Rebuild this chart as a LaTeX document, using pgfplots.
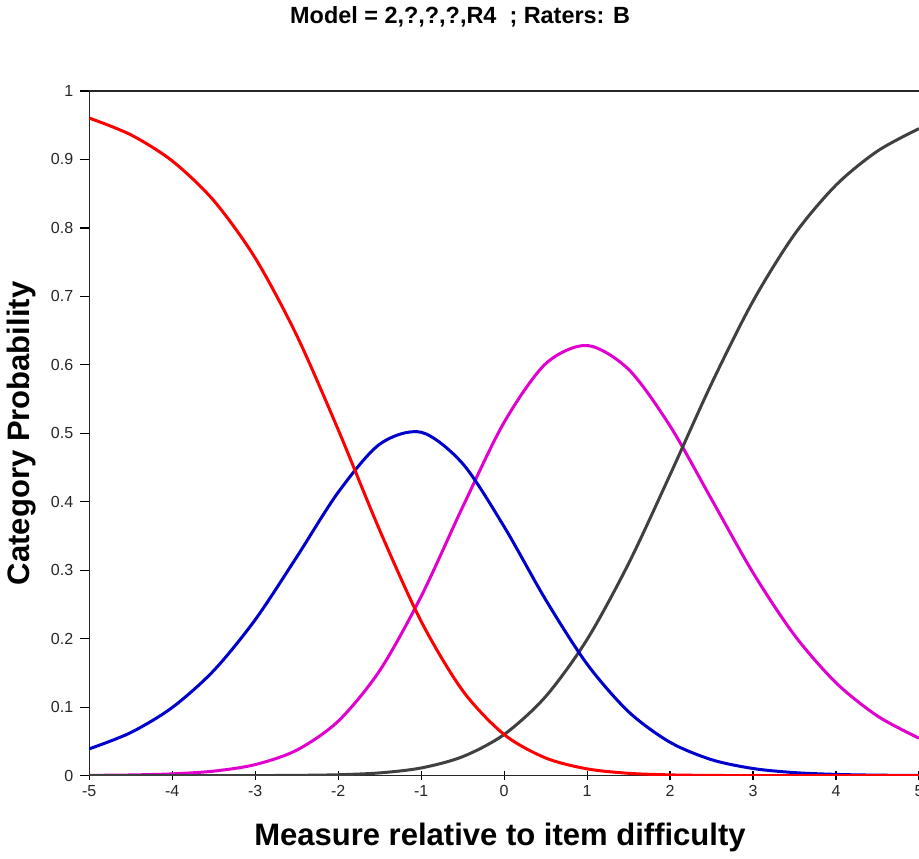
\documentclass[border=0pt]{standalone}
\usepackage{pgfplots}
\usepackage{pgfplotstable}
\pgfplotsset{compat=1.18}
\usepackage{fontspec}
\setmainfont{Liberation Sans}

\definecolor{cRed}{RGB}{255,0,0}
\definecolor{cBlue}{RGB}{0,0,205}
\definecolor{cMag}{RGB}{225,0,205}
\definecolor{cGray}{RGB}{64,64,64}

% category probability curves
\pgfplotstableread{
x     p0      p1      p2      p3
-5.0  0.9605  0.0391  0.0004  0.0000
-4.5  0.9361  0.0629  0.0010  0.0000
-4.0  0.8979  0.0995  0.0026  0.0000
-3.5  0.8400  0.1534  0.0066  0.0000
-3.0  0.7561  0.2277  0.0161  0.0001
-2.5  0.6431  0.3193  0.0372  0.0004
-2.0  0.5054  0.4138  0.0795  0.0013
-1.5  0.3586  0.4841  0.1533  0.0040
-1.0  0.2254  0.5016  0.2618  0.0112
-0.5  0.1242  0.4558  0.3923  0.0277
 0.0  0.0601  0.3637  0.5161  0.0601
 0.5  0.0258  0.2571  0.6016  0.1155
 1.0  0.0099  0.1629  0.6283  0.1989
 1.5  0.0034  0.0933  0.5934  0.3098
 2.0  0.0011  0.0487  0.5107  0.4395
 2.5  0.0003  0.0233  0.4036  0.5727
 3.0  0.0001  0.0104  0.2963  0.6932
 3.5  0.0000  0.0044  0.2050  0.7907
 4.0  0.0000  0.0018  0.1356  0.8626
 4.5  0.0000  0.0007  0.0870  0.9123
 5.0  0.0000  0.0003  0.0547  0.9451
}\probs

\begin{document}
\begin{tikzpicture}[trim axis right]
\begin{axis}[
    scale only axis,
    width=414.5pt, height=342pt,
    xmin=-5, xmax=5, ymin=0, ymax=1,
    axis x line=box, axis y line=left,
    axis line style={-, line width=0.7pt, black!85},
    xtick={-5,...,5}, ytick={0,0.1,...,1},
    xtick pos=bottom,
    yticklabels={0,0.1,0.2,0.3,0.4,0.5,0.6,0.7,0.8,0.9,1},
    xtick align=center, ytick align=outside,
    major tick length=4.5pt,
    tick style={black, line width=0.6pt},
    ticklabel style={font=\fontsize{8}{9}\selectfont, text=black!85},
    xticklabel style={yshift=1pt},
    /pgf/number format/assume math mode=true,
    title={Model = 2,?,?,?,R4~~; Raters: B},
    title style={at={(axis description cs:0.447,1.0906)}, anchor=center, font=\fontsize{11.7}{13}\selectfont\bfseries},
    xlabel={Measure relative to item difficulty},
    xlabel style={at={(axis description cs:0.495,-0.0906)}, anchor=center, font=\fontsize{15.5}{17}\selectfont\bfseries},
    ylabel={Category Probability},
    ylabel style={at={(axis description cs:-0.082,0.5)}, anchor=center, rotate=0, font=\fontsize{15.5}{17}\selectfont\bfseries},
    every axis plot/.append style={line width=1.5pt, smooth, no markers},
    clip=true,
]
\addplot[cMag] table[x=x, y=p2] {\probs};
\addplot[cGray] table[x=x, y=p3] {\probs};
\addplot[cBlue] table[x=x, y=p1] {\probs};
\addplot[cRed] table[x=x, y=p0] {\probs};
\end{axis}
\end{tikzpicture}
\end{document}
